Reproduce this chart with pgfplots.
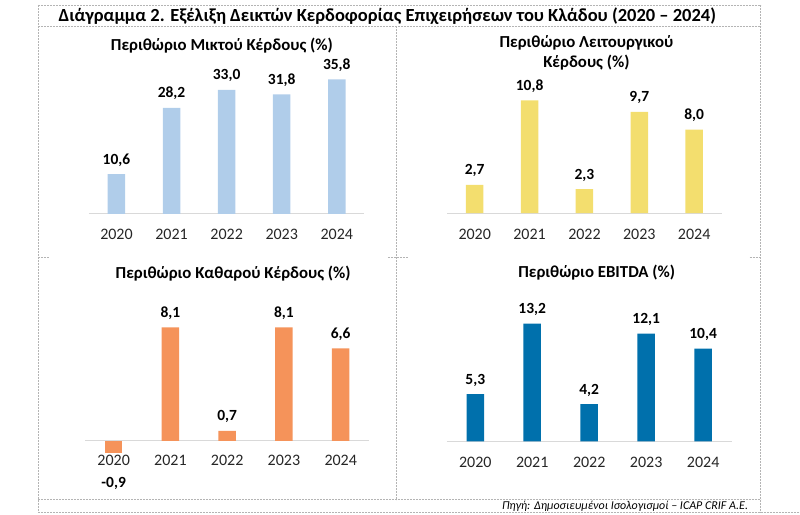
\documentclass[border=0pt]{standalone}
\usepackage{pgfplots}
\pgfplotsset{compat=1.18}
\usepackage{fontspec}
\setmainfont{Carlito}
\definecolor{cA}{HTML}{B0CDEA}
\definecolor{cB}{HTML}{F3DE6E}
\definecolor{cC}{HTML}{F5935A}
\definecolor{cD}{HTML}{0070AC}
\definecolor{linec}{HTML}{D9D9D9}
\definecolor{borderc}{HTML}{B4B4B4}
\definecolor{txt}{HTML}{262626}
\pgfplotsset{panel/.style={
  scale only axis,
  axis x line=middle, axis y line=none,
  x axis line style={-, draw=linec, line width=1pt},
  hide obscured x ticks=false,
  xtick={0,1,2,3,4}, xticklabels={2020,2021,2022,2023,2024},
  major tick length=0pt,
  xticklabel style={anchor=base, yshift=-26pt, font=\fontsize{16}{16}\selectfont, text=txt},
  xmin=-0.5, xmax=4.5,
  ybar, bar width=17.5pt, bar shift=0pt,
  nodes near coords={\pgfmathprintnumber[fixed,fixed zerofill,precision=1,use comma,assume math mode=true]{\pgfplotspointmeta}},
  nodes near coords style={anchor=base, yshift=10pt, font=\bfseries\fontsize{15.5}{15.5}\selectfont, text=black},
  clip=false,
  anchor=south west,
}}
\begin{document}
\begin{tikzpicture}[x=1pt,y=1pt]
\path (0,0) rectangle (800,515);
% borders
\begin{scope}[draw=borderc, line width=0.8pt, dash pattern=on 2pt off 1pt]
\draw (38,510) -- (761,510);
\draw (38,489) -- (761,489);
\draw (38,510) -- (38,2);
\draw (761,510) -- (761,2);
\draw (397,489) -- (397,15);
\draw (38,15) -- (761,15);
\draw (38,2) -- (800,2);
\draw (38,257) -- (50,257);
\draw (388,257) -- (408,257);
\draw (750,257) -- (761,257);
\end{scope}
% titles
\node[font=\bfseries\fontsize{18.5}{18.5}\selectfont, text=black] at (387.5,499) {Διάγραμμα 2. Εξέλιξη Δεικτών Κερδοφορίας Επιχειρήσεων του Κλάδου (2020 – 2024)};
\node[font=\bfseries\fontsize{16.8}{16.8}\selectfont, text=black] at (222,469) {Περιθώριο Μικτού Κέρδους (\%)};
\node[font=\bfseries\fontsize{16.8}{16.8}\selectfont, text=black] at (586.7,472) {Περιθώριο Λειτουργικού};
\node[font=\bfseries\fontsize{16.8}{16.8}\selectfont, text=black] at (586.7,452) {Κέρδους (\%)};
\node[font=\bfseries\fontsize{16.8}{16.8}\selectfont, text=black] at (233.3,241.7) {Περιθώριο Καθαρού Κέρδους (\%)};
\node[font=\bfseries\fontsize{16.8}{16.8}\selectfont, text=black] at (597,242) {Περιθώριο EBITDA (\%)};
\node[font=\itshape\fontsize{12}{12}\selectfont, text=black, anchor=east] at (752,8.5) {Πηγή: Δημοσιευμένοι Ισολογισμοί – ICAP CRIF A.E.};
% panel 1
\begin{axis}[panel, at={(89pt,301pt)}, width=275.5pt, height=144pt, ymin=0, ymax=38.3]
\addplot[fill=cA, draw=none] coordinates {(0,10.6) (1,28.2) (2,33.0) (3,31.8) (4,35.8)};
\end{axis}
% panel 2
\begin{axis}[panel, at={(447.5pt,301.7pt)}, width=274.5pt, height=144pt, ymin=0, ymax=13.78]
\addplot[fill=cB, draw=none] coordinates {(0,2.7) (1,10.8) (2,2.3) (3,9.7) (4,8.0)};
\end{axis}
% panel 3
\begin{axis}[panel, at={(85.3pt,53pt)}, width=284pt, height=154pt, ymin=-1.5, ymax=9.5,
  xticklabel style={yshift=1pt}]
\addplot[fill=cC, draw=none] coordinates {(1,8.1) (2,0.7) (3,8.1) (4,6.6)};
\addplot[fill=cC, draw=none, nodes near coords style={yshift=-44pt}] coordinates {(0,-0.9)};
\end{axis}
% panel 4
\begin{axis}[panel, at={(447pt,73.3pt)}, width=285pt, height=144pt, ymin=0, ymax=16.13]
\addplot[fill=cD, draw=none] coordinates {(0,5.3) (1,13.2) (2,4.2) (3,12.1) (4,10.4)};
\end{axis}
\end{tikzpicture}
\end{document}
